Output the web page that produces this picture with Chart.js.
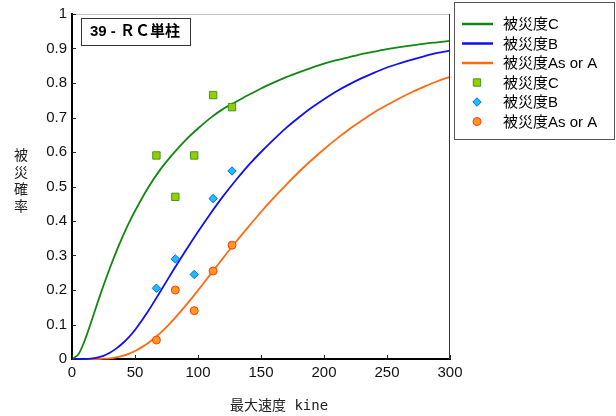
<!DOCTYPE html>
<html>
<head>
<meta charset="utf-8">
<script src="https://cdn.jsdelivr.net/npm/chart.js@4"></script>
<style>
    body { margin: 0; background: #fff; }
</style>
</head>
<body>
<canvas id="myChart" width="616" height="416"></canvas>
<script>
const curveX = [0, 5, 10, 15, 20, 25, 30, 35, 40, 45, 50, 60, 70, 80, 90, 100, 110, 120, 130, 140, 150,
    160, 170, 180, 190, 200, 210, 220, 230, 240, 250, 260, 270, 280, 290, 300];
const curveC = [0, 0.013, 0.053, 0.105, 0.16, 0.213, 0.263, 0.31, 0.353, 0.393, 0.429, 0.494, 0.549, 0.594, 0.634, 0.668, 0.699, 0.725, 0.745, 0.765, 0.784,
    0.801, 0.817, 0.831, 0.844, 0.856, 0.866, 0.875, 0.884, 0.891, 0.898, 0.904, 0.909, 0.914, 0.918, 0.922];
const curveB = [0, 0, 0, 0.001, 0.004, 0.009, 0.018, 0.03, 0.045, 0.063, 0.084, 0.136, 0.195, 0.255, 0.313, 0.369, 0.422, 0.472, 0.518, 0.561, 0.6,
    0.636, 0.67, 0.7, 0.728, 0.753, 0.776, 0.796, 0.814, 0.83, 0.845, 0.857, 0.868, 0.878, 0.887, 0.894];
const curveA = [0, 0, 0, 0, 0, 0.001, 0.002, 0.005, 0.009, 0.015, 0.023, 0.045, 0.075, 0.112, 0.154, 0.199, 0.246, 0.293, 0.339, 0.383, 0.426,
    0.467, 0.505, 0.542, 0.576, 0.608, 0.638, 0.666, 0.691, 0.715, 0.736, 0.756, 0.774, 0.79, 0.805, 0.818];

const pointX = [67, 82, 97, 112, 127];
const damageC = [0.59, 0.47, 0.59, 0.765, 0.73];
const damageB = [0.205, 0.29, 0.245, 0.465, 0.545];
const damageA = [0.055, 0.2, 0.14, 0.255, 0.33];

const seriesNames = ['被災度C', '被災度B', '被災度As or A'];
const chartTitle = '39 - ＲＣ単柱';
const yTitle = ['被', '災', '確', '率'];
const xTitle = '最大速度 kine';

function toPoints(xs, ys) {
    return xs.map((x, i) => ({ x: x, y: ys[i] }));
}

function lineSet(label, ys, color) {
    return {
        label: label,
        data: toPoints(curveX, ys),
        showLine: true,
        borderColor: color,
        backgroundColor: color,
        borderWidth: 1.8,
        pointRadius: 0,
        tension: 0.3,
        clip: false,
        order: 2
    };
}

function pointSet(label, ys, fill, edge, style, radius) {
    return {
        label: label,
        data: toPoints(pointX, ys),
        showLine: false,
        pointStyle: style,
        pointRadius: radius,
        pointBackgroundColor: fill,
        pointBorderColor: edge,
        pointBorderWidth: 1,
        backgroundColor: fill,
        borderColor: edge,
        clip: false,
        order: 1
    };
}

const labelFont = '"Liberation Sans", Arial, "Noto Sans CJK JP", sans-serif';

const framePlugin = {
    id: 'frame',
    afterDraw(chart) {
        const ctx = chart.ctx;
        const a = chart.chartArea;
        ctx.save();

        // top and right frame
        ctx.lineWidth = 1;
        ctx.strokeStyle = '#c4c4c4';
        ctx.beginPath();
        ctx.moveTo(a.left, a.top + 0.5);
        ctx.lineTo(a.right, a.top + 0.5);
        ctx.stroke();
        ctx.strokeStyle = '#333';
        ctx.beginPath();
        ctx.moveTo(a.right - 0.5, a.top);
        ctx.lineTo(a.right - 0.5, a.bottom);
        ctx.stroke();

        // inward tick marks
        ctx.strokeStyle = '#222';
        const ys = chart.scales.y;
        ys.ticks.forEach(t => {
            const py = Math.round(ys.getPixelForValue(t.value)) + 0.5;
            ctx.beginPath();
            ctx.moveTo(a.left, py);
            ctx.lineTo(a.left + 4, py);
            ctx.stroke();
        });
        const xs = chart.scales.x;
        xs.ticks.forEach(t => {
            const px = Math.round(xs.getPixelForValue(t.value)) + 0.5;
            ctx.beginPath();
            ctx.moveTo(px, a.bottom);
            ctx.lineTo(px, a.bottom - 4);
            ctx.stroke();
        });

        // title box
        ctx.fillStyle = '#fff';
        ctx.fillRect(81, 18, 109, 27);
        ctx.strokeStyle = '#333';
        ctx.strokeRect(81.5, 18.5, 109, 27);
        ctx.fillStyle = '#000';
        ctx.font = 'bold 15px ' + labelFont;
        ctx.textBaseline = 'middle';
        ctx.textAlign = 'left';
        ctx.fillText(chartTitle, 90, 32);

        // axis titles
        ctx.fillStyle = '#222';
        ctx.font = '14px "Noto Sans CJK JP", sans-serif';
        ctx.textAlign = 'center';
        yTitle.forEach((ch, i) => ctx.fillText(ch, 21, 155 + i * 17));
        ctx.textAlign = 'left';
        ctx.font = '14px "DejaVu Sans Mono", "Noto Sans CJK JP", monospace';
        ctx.fillText(xTitle, 230, 406);

        // legend
        ctx.strokeStyle = '#555';
        ctx.strokeRect(454.5, 2.5, 160, 137);
        ctx.font = '15px ' + labelFont;
        ctx.fillStyle = '#000';
        const sets = chart.data.datasets;
        sets.forEach((ds, i) => {
            const y = 24 + i * 19.5;
            if (ds.showLine) {
                ctx.strokeStyle = ds.borderColor;
                ctx.lineWidth = 2.5;
                ctx.beginPath();
                ctx.moveTo(462, y);
                ctx.lineTo(493, y);
                ctx.stroke();
            } else {
                ctx.fillStyle = ds.pointBackgroundColor;
                ctx.strokeStyle = ds.pointBorderColor;
                ctx.lineWidth = 1;
                Chart.helpers.drawPoint(ctx, {
                    pointStyle: ds.pointStyle,
                    radius: ds.pointRadius,
                    rotation: 0,
                    borderWidth: 1
                }, 477, y);
            }
            ctx.fillStyle = '#000';
            ctx.fillText(ds.label, 503, y + 1);
        });
        ctx.restore();
    }
};

const ctx = document.getElementById('myChart').getContext('2d');
new Chart(ctx, {
    type: 'scatter',
    data: {
        datasets: [
            lineSet(seriesNames[0], curveC, '#118811'),
            lineSet(seriesNames[1], curveB, '#1010f0'),
            lineSet(seriesNames[2], curveA, '#ff6a10'),
            pointSet(seriesNames[0], damageC, '#99cc00', '#3c9a1c', 'rect', 5.2),
            pointSet(seriesNames[1], damageB, '#19c0ff', '#1060ff', 'rectRot', 4.2),
            pointSet(seriesNames[2], damageA, '#ff9a1a', '#ff3a1a', 'circle', 4)
        ]
    },
    options: {
        responsive: false,
        animation: false,
        layout: { padding: { left: 0, right: 166, top: 8, bottom: 0 } },
        plugins: {
            legend: { display: false },
            tooltip: { enabled: false }
        },
        scales: {
            x: {
                type: 'linear',
                min: 0,
                max: 300,
                afterFit: scale => { scale.height = 57; },
                grid: { display: false, drawTicks: false },
                border: { display: true, color: '#000', width: 2 },
                ticks: {
                    stepSize: 50,
                    padding: 5,
                    color: '#111',
                    font: { family: labelFont, size: 15 }
                }
            },
            y: {
                min: 0,
                max: 1,
                afterFit: scale => { scale.width = 72; },
                grid: { display: false, drawTicks: false },
                border: { display: true, color: '#000', width: 2 },
                ticks: {
                    stepSize: 0.1,
                    padding: 5,
                    color: '#111',
                    font: { family: labelFont, size: 15 },
                    callback: v => String(Math.round(v * 10) / 10)
                }
            }
        }
    },
    plugins: [framePlugin]
});
</script>
</body>
</html>
